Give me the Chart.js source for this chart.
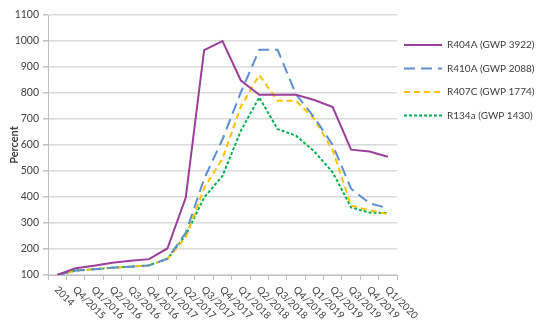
<!DOCTYPE html>
<html>
<head>
<meta charset="utf-8">
<script src="https://cdn.jsdelivr.net/npm/chart.js@4/dist/chart.umd.min.js"></script>
<style>
  html, body { margin: 0; padding: 0; background: #fff; }
  #wrap { width: 538px; height: 334px; }
</style>
</head>
<body>
<div id="wrap"><canvas id="chart"></canvas></div>
<script>
const quarters = ['2014', 'Q4/2015', 'Q1/2016', 'Q2/2016', 'Q3/2016', 'Q4/2016', 'Q1/2017', 'Q2/2017',
  'Q3/2017', 'Q4/2017', 'Q1/2018', 'Q2/2018', 'Q3/2018', 'Q4/2018', 'Q1/2019', 'Q2/2019', 'Q3/2019',
  'Q4/2019', 'Q1/2020'];

const r404a = [100, 126, 136, 147, 155, 161, 202, 398, 965, 1000, 848, 793, 793, 793, 773, 746, 582, 575, 555];
const r410a = [100, 117, 122, 128, 132, 137, 163, 262, 470, 622, 803, 966, 966, 795, 706, 600, 432, 376, 357];
const r407c = [100, 117, 122, 128, 132, 137, 162, 245, 435, 548, 748, 869, 770, 770, 700, 580, 367, 349, 334];
const r134a = [100, 117, 122, 128, 132, 137, 162, 254, 398, 481, 655, 783, 661, 636, 575, 495, 360, 340, 338];

const seriesNames = ['R404A (GWP 3922)', 'R410A (GWP 2088)', 'R407C (GWP 1774)', 'R134a (GWP 1430)'];

const FONT = 'Lato, "Open Sans", sans-serif';
const TEXT = '#404040';

// rotated quarter labels under the x axis (text runs down to the right)
const quarterLabels = {
  id: 'quarterLabels',
  afterDraw(chart) {
    const ctx = chart.ctx;
    const xs = chart.scales.x;
    ctx.save();
    ctx.font = '10px ' + FONT;
    ctx.fillStyle = TEXT;
    ctx.textAlign = 'left';
    ctx.textBaseline = 'middle';
    quarters.forEach((q, i) => {
      const x = xs.getPixelForValue(i);
      ctx.save();
      ctx.translate(x - 1, xs.top + 13);
      ctx.rotate(Math.PI / 4);
      ctx.fillText(q, 0, 0);
      ctx.restore();
    });
    ctx.restore();
  }
};

// legend on the right with line samples
const sideLegend = {
  id: 'sideLegend',
  afterDraw(chart) {
    const ctx = chart.ctx;
    const rows = [45, 68.5, 92, 115.5];
    ctx.save();
    ctx.font = '10px ' + FONT;
    ctx.textAlign = 'left';
    ctx.textBaseline = 'middle';
    chart.data.datasets.forEach((ds, i) => {
      const y = rows[i];
      ctx.strokeStyle = ds.borderColor;
      ctx.lineWidth = ds.borderWidth;
      ctx.setLineDash(ds.borderDash || []);
      ctx.beginPath();
      ctx.moveTo(404, y);
      ctx.lineTo(442, y);
      ctx.stroke();
      ctx.setLineDash([]);
      ctx.fillStyle = TEXT;
      ctx.fillText(ds.label, 447, y);
    });
    ctx.restore();
  }
};

function line(label, data, color, dash) {
  return {
    label,
    data,
    borderColor: color,
    backgroundColor: color,
    borderWidth: 2,
    borderDash: dash,
    pointRadius: 0,
    tension: 0,
    fill: false,
  };
}

new Chart(document.getElementById('chart'), {
  type: 'line',
  data: {
    labels: quarters,
    datasets: [
      line(seriesNames[0], r404a, '#9b3f9b', []),
      line(seriesNames[1], r410a, '#5b8fd2', [11, 6]),
      line(seriesNames[2], r407c, '#ffc000', [6, 4]),
      line(seriesNames[3], r134a, '#00b050', [3, 2]),
    ]
  },
  options: {
    responsive: true,
    maintainAspectRatio: false,
    animation: false,
    devicePixelRatio: 1,
    layout: { padding: { top: 15, right: 141, left: 0, bottom: 0 } },
    plugins: {
      legend: { display: false },
      tooltip: { enabled: false }
    },
    scales: {
      x: {
        offset: true,
        grid: {
          offset: true,
          drawOnChartArea: false,
          drawTicks: true,
          tickLength: 5,
          color: '#bfbfbf'
        },
        border: { display: true, color: '#bfbfbf', width: 1 },
        ticks: { display: false },
        afterFit(scale) { scale.height = 59; }
      },
      y: {
        min: 100,
        max: 1100,
        ticks: {
          stepSize: 100,
          color: TEXT,
          padding: 4,
          font: { family: FONT, size: 10.5 },
          callback: (v) => String(v)
        },
        grid: {
          color: '#d9d9d9',
          lineWidth: 1.5,
          tickColor: '#bfbfbf',
          tickLength: 5
        },
        border: { display: true, color: '#bfbfbf', width: 1 },
        title: {
          display: true,
          text: 'Percent',
          color: TEXT,
          font: { family: FONT, size: 11, weight: 'bold' },
          padding: { top: 8, bottom: 0 }
        },
        afterFit(scale) { scale.width = 48; }
      }
    }
  },
  plugins: [quarterLabels, sideLegend]
});
</script>
</body>
</html>
